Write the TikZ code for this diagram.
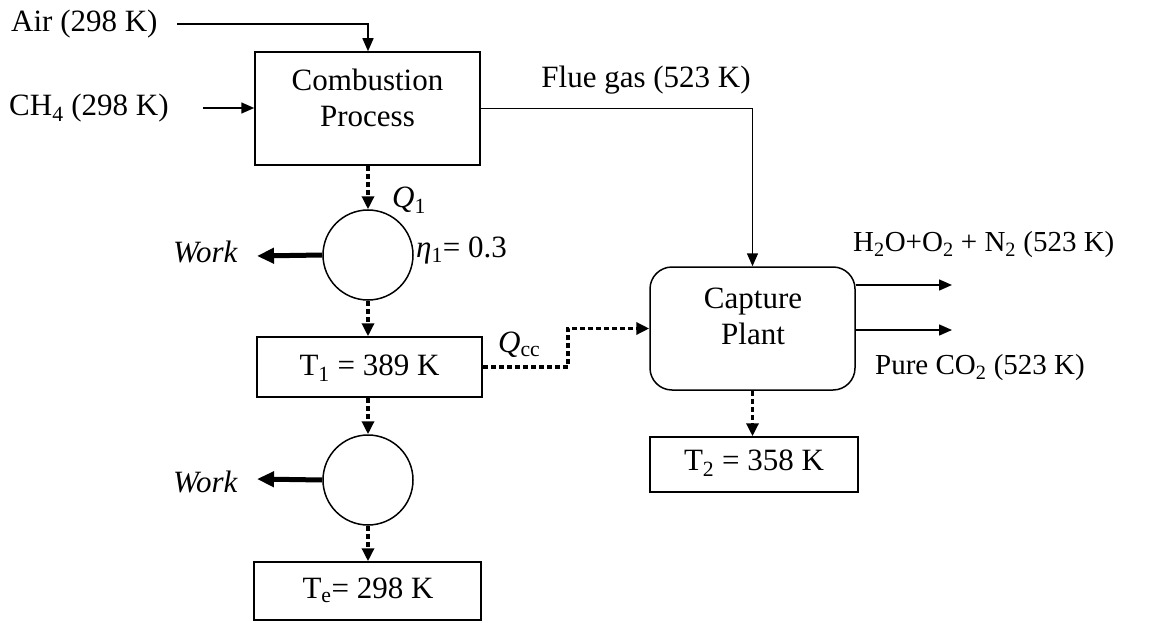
\documentclass[tikz,border=0pt]{standalone}
\usepackage{fontspec}
\setmainfont{Liberation Serif}
\usetikzlibrary{arrows.meta}
\tikzset{
  lbl/.style={font=\fontsize{31}{36}\selectfont, inner sep=0pt, align=center},
  smalllbl/.style={font=\fontsize{29}{34}\selectfont, inner sep=0pt, align=center},
  boxnode/.style={draw, line width=1.5pt, rectangle, inner sep=0pt},
  engine/.style={draw, line width=1.5pt, circle, inner sep=0pt, minimum size=90pt},
  flow/.style={line width=1.5pt, -{Triangle[length=13pt,width=11pt]}},
  heat/.style={line width=3.5pt, dash pattern=on 5pt off 3pt, -{Triangle[length=13pt,width=12pt]}},
  workarrow/.style={line width=5pt, -{Triangle[length=17pt,width=15pt]}},
}
\begin{document}
\begin{tikzpicture}[x=1pt,y=-1pt]
\useasboundingbox (0,0) rectangle (1151,623);
% boxes
\node[boxnode, minimum width=225pt, minimum height=113pt] (comb) at (367.5,108.5) {};
\node[lbl] (combtext) at (367.5,98) {Combustion\\Process};
\node[engine] (c1) at (368,255) {};
\node[boxnode, minimum width=225pt, minimum height=60pt] (t1) at (369.5,367) {};
\node[lbl] (t1text) at (369.5,368) {T\textsubscript{1} = 389 K};
\node[engine] (c2) at (368,480) {};
\node[boxnode, minimum width=227pt, minimum height=58pt] (te) at (367.5,591) {};
\node[lbl] (tetext) at (368,590) {T\textsubscript{e}= 298 K};
\node[boxnode, rounded corners=22pt, minimum width=205pt, minimum height=123pt] (cap) at (752.5,328.5) {};
\node[lbl] (captext) at (753,316) {Capture\\Plant};
\node[boxnode, minimum width=208pt, minimum height=55pt] (t2) at (754,464.5) {};
\node[lbl] (t2text) at (754,463) {T\textsubscript{2} = 358 K};
% labels
\node[lbl, anchor=west] (air) at (11,24) {Air (298 K)};
\node[lbl, anchor=west] (ch4) at (9,108) {CH\textsubscript{4} (298 K)};
\node[lbl] (flue) at (646,80) {Flue gas (523 K)};
\node[lbl, anchor=west] (q1) at (392,200) {\textit{Q}\textsubscript{1}};
\node[lbl, anchor=west] (eta) at (416,250) {\textit{η}\textsubscript{1}= 0.3};
\node[lbl, anchor=east] (work1) at (238,252) {\textit{Work}};
\node[lbl, anchor=east] (work2) at (238,482) {\textit{Work}};
\node[lbl, anchor=west] (qcc) at (498,345) {\textit{Q}\textsubscript{cc}};
\node[smalllbl, anchor=west] (h2o) at (853,245) {H\textsubscript{2}O+O\textsubscript{2} + N\textsubscript{2} (523 K)};
\node[smalllbl, anchor=west] (co2) at (875,368) {Pure CO\textsubscript{2} (523 K)};
% free ends
\coordinate (airS) at (177,24);
\coordinate (ch4S) at (203,108);
\coordinate (w1E) at (257,256);
\coordinate (w2E) at (257,479);
\coordinate (qccx) at (568,367);
\coordinate (o1) at (952,285);
\coordinate (o2) at (952,330);
% connectors
\draw[flow] (airS) -| (comb.north -| c1);
\draw[flow] (ch4S) -- (ch4S -| comb.west);
\draw[flow] (comb.east) -| (cap.north);
\draw[heat] (comb.south -| c1) -- (c1.north);
\draw[workarrow] (c1.west) -- (w1E);
\draw[heat] (c1.south) -- (t1.north -| c1);
\draw[heat] (t1.east) -| (qccx |- cap.west) -- (cap.west);
\draw[heat] (t1.south -| c2) -- (c2.north);
\draw[workarrow] (c2.west) -- (w2E);
\draw[heat] (c2.south) -- (te.north -| c2);
\draw[flow] (cap.east |- o1) -- (o1);
\draw[flow] (cap.east |- o2) -- (o2);
\draw[heat] (cap.south) -- (cap.south |- t2.north);
\end{tikzpicture}
\end{document}
